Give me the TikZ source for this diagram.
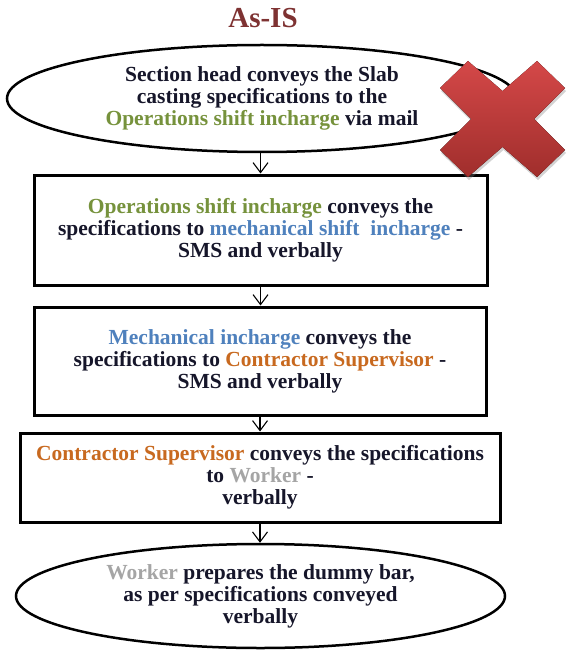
\documentclass[tikz,border=0pt]{standalone}
\usepackage{fontspec}
\setmainfont{Liberation Serif}
\usetikzlibrary{arrows.meta,shapes.geometric,shadows}
\definecolor{txt}{HTML}{16162A}
\definecolor{ops}{HTML}{76923C}
\definecolor{mech}{HTML}{4F81BD}
\definecolor{con}{HTML}{C8691F}
\definecolor{wrk}{HTML}{A5A5A5}
\definecolor{ttl}{HTML}{7E3232}
\definecolor{xtop}{HTML}{D44848}
\definecolor{xbot}{HTML}{A02E2C}
\begin{document}
\begin{tikzpicture}[x=1pt,y=-1pt,
  every node/.style={font=\fontsize{21.5}{22}\selectfont\bfseries, text=txt, align=center, inner sep=0pt},
  stepbox/.style={draw=black, line width=3pt, rectangle, fill=white},
  oval/.style={draw=black, line width=2.5pt, ellipse, fill=white},
  arr/.style={draw=black, line width=1.1pt, -{Straight Barb[length=10pt,width=15pt,line width=1.1pt]}}]
\useasboundingbox (0,0) rectangle (566,655);
% title
\node[font=\fontsize{29}{30}\selectfont\bfseries, text=ttl, anchor=base] (title) at (263,28) {As-IS};
% nodes
\node[oval, minimum width=510pt, minimum height=107pt] (e1) at (262,98.5)
  {Section head conveys the Slab\\casting specifications to the\\\textcolor{ops}{Operations shift incharge} via mail};
\node[stepbox, minimum width=453pt, minimum height=110pt] (b1) at (260.5,230)
  {\textcolor{ops}{Operations shift incharge} conveys the\\specifications to \textcolor{mech}{mechanical shift\ \ incharge} -\\SMS and verbally};
\node[stepbox, minimum width=452pt, minimum height=108pt] (b2) at (260,361)
  {\textcolor{mech}{Mechanical incharge} conveys the\\specifications to \textcolor{con}{Contractor Supervisor} -\\SMS and verbally};
\node[stepbox, minimum width=480pt, minimum height=89pt] (b3) at (260,477.5)
  {\textcolor{con}{Contractor Supervisor} conveys the specifications\\to \textcolor{wrk}{Worker} -\\verbally};
\node[oval, minimum width=489pt, minimum height=104pt] (e2) at (260.5,596)
  {\textcolor{wrk}{Worker} prepares the dummy bar,\\as per specifications conveyed\\verbally};
% connectors
\draw[arr] (b1.north |- e1.south) -- (b1.north);
\draw[arr] (b1.south) -- (b1.south |- b2.north);
\draw[arr] (b2.south) -- (b2.south |- b3.north);
\draw[arr] (b3.south) -- (b3.south |- e2.north);
% red X mark
\fill[top color=xtop, bottom color=xbot, drop shadow={opacity=0.35, shadow xshift=1pt, shadow yshift=-3pt}]
  (440,88) -- (468,61) -- (502.5,91) -- (537,61) -- (565,88) -- (534,119) --
  (565,150) -- (537,177) -- (502.5,147) -- (468,177) -- (440,150) -- (471,119) -- cycle;
\end{tikzpicture}
\end{document}
